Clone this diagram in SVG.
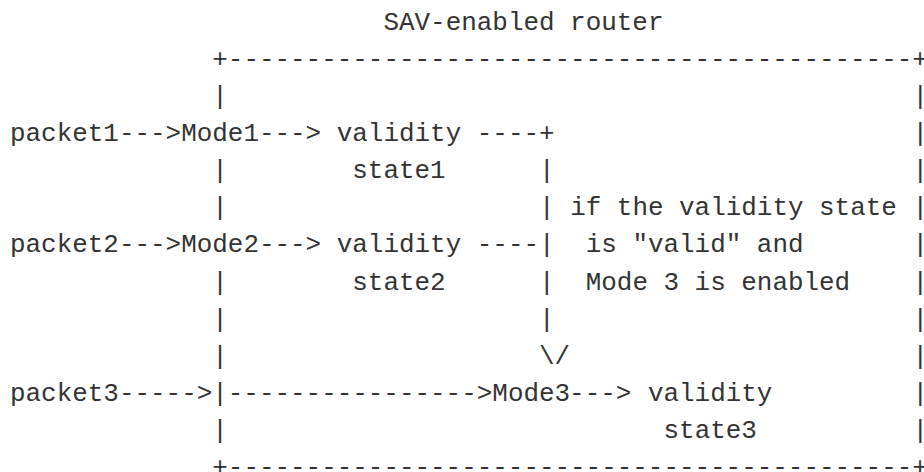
<svg xmlns="http://www.w3.org/2000/svg" width="924" height="472" viewBox="0 0 924 472">
<style>
text{font-family:"Liberation Mono","DejaVu Sans Mono",monospace;font-size:25.93px;fill:#333;white-space:pre}
</style>
<rect width="924" height="472" fill="#fff"/>
<g id="title"><text x="383.44" y="29.5">SAV-enabled router</text></g>
<g id="router-box">
<text x="212.28" y="66.65">+--------------------------------------------+</text>
<text x="212.28" y="475.3">+--------------------------------------------+</text>
<text x="212.28" y="103.8">|</text>
<text x="212.28" y="178.1">|</text>
<text x="212.28" y="215.25">|</text>
<text x="212.28" y="289.55">|</text>
<text x="212.28" y="326.7">|</text>
<text x="212.28" y="363.85">|</text>
<text x="212.28" y="438.15">|</text>
<text x="912.48" y="103.8">|</text>
<text x="912.48" y="140.95">|</text>
<text x="912.48" y="178.1">|</text>
<text x="912.48" y="215.25">|</text>
<text x="912.48" y="252.4">|</text>
<text x="912.48" y="289.55">|</text>
<text x="912.48" y="326.7">|</text>
<text x="912.48" y="363.85">|</text>
<text x="912.48" y="401">|</text>
<text x="912.48" y="438.15">|</text>
</g>
<g id="packet1"><text x="10" y="140.95">packet1</text></g>
<g id="packet2"><text x="10" y="252.4">packet2</text></g>
<g id="packet3"><text x="10" y="401">packet3</text></g>
<g id="mode1"><text x="181.16" y="140.95">Mode1</text></g>
<g id="mode2"><text x="181.16" y="252.4">Mode2</text></g>
<g id="mode3"><text x="492.36" y="401">Mode3</text></g>
<g id="state1"><text x="336.76" y="140.95">validity</text><text x="352.32" y="178.1">state1</text></g>
<g id="state2"><text x="336.76" y="252.4">validity</text><text x="352.32" y="289.55">state2</text></g>
<g id="state3"><text x="647.96" y="401">validity</text><text x="663.52" y="438.15">state3</text></g>
<g id="condition">
<text x="570.16" y="215.25">if the validity state</text>
<text x="585.72" y="252.4">is "valid" and</text>
<text x="585.72" y="289.55">Mode 3 is enabled</text>
</g>
<g id="connectors">
<text x="118.92" y="140.95">---&gt;</text>
<text x="258.96" y="140.95">---&gt;</text>
<text x="118.92" y="252.4">---&gt;</text>
<text x="258.96" y="252.4">---&gt;</text>
<text x="476.8" y="140.95">----+</text>
<text x="476.8" y="252.4">----|</text>
<text x="539.04" y="178.1">|</text>
<text x="539.04" y="215.25">|</text>
<text x="539.04" y="289.55">|</text>
<text x="539.04" y="326.7">|</text>
<text x="539.04" y="363.85">\/</text>
<text x="118.92" y="401">-----&gt;|----------------&gt;</text>
<text x="569.08" y="401">---&gt;</text>
</g>
</svg>
